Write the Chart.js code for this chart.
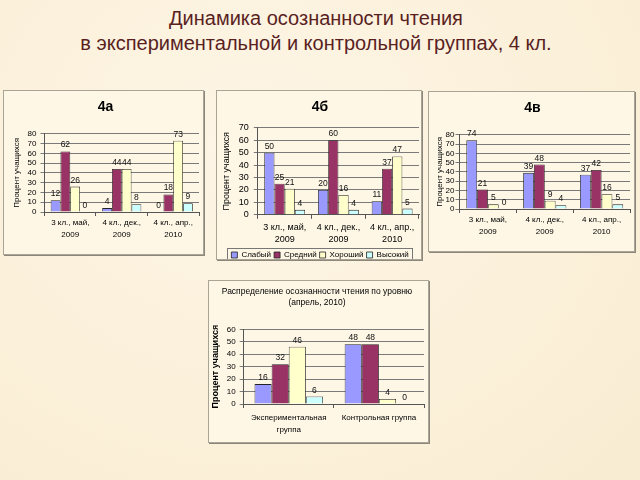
<!DOCTYPE html>
<html lang="ru">
<head>
<meta charset="UTF-8">
<title>Динамика осознанности чтения</title>
<script src="https://cdn.jsdelivr.net/npm/chart.js"></script>
<style>
  html, body { margin: 0; padding: 0; }
  body {
    width: 640px; height: 480px; overflow: hidden; position: relative;
    background: radial-gradient(ellipse at 40% 30%, #fdf5e6 0%, #fbf0d9 60%, #f8ecd2 100%);
    font-family: "Liberation Sans", Arial, sans-serif;
  }
  #heading {
    position: absolute; left: 0; top: 6px; width: 632px; text-align: center;
    font-size: 20px; line-height: 25px; color: #5a1f1f;
  }
  .panel {
    position: absolute; box-sizing: border-box;
    border: 1px solid #aaa496; box-shadow: 1px 1px 0 #8c877b;
    background: #fef7e6;
  }
  .panel canvas { display: block; }
</style>
</head>
<body>
<div id="heading">Динамика осознанности чтения<br>в экспериментальной и контрольной группах, 4 кл.</div>

<div class="panel" style="left:3px; top:90px; width:201px; height:165px;"><canvas id="chartA" width="199" height="163"></canvas></div>
<div class="panel" style="left:216px; top:90px; width:206px; height:170px;"><canvas id="chartB" width="204" height="168"></canvas></div>
<div class="panel" style="left:428px; top:91px; width:207px; height:161px;"><canvas id="chartV" width="205" height="159"></canvas></div>
<div class="panel" style="left:208px; top:280px; width:221px; height:163px;"><canvas id="chartAll" width="219" height="161"></canvas></div>

<script>
// levels (series) and their colours
const levels = ['Слабый', 'Средний', 'Хороший', 'Высокий'];
const levelColors = ['#9999ff', '#993366', '#ffffcc', '#ccffff'];

// periods (categories) for the class charts
const periods = [['3 кл., май,', '2009'], ['4 кл., дек.,', '2009'], ['4 кл., апр.,', '2010']];

// 4а: one array per level, over the periods
const weakA = [12, 4, 0];
const midA = [62, 44, 18];
const goodA = [26, 44, 73];
const highA = [0, 8, 9];

// 4б
const weakB = [50, 20, 11];
const midB = [25, 60, 37];
const goodB = [21, 16, 47];
const highB = [4, 4, 5];

// 4в
const weakV = [74, 39, 37];
const midV = [21, 48, 42];
const goodV = [5, 9, 16];
const highV = [0, 4, 5];

// April 2010 distribution
const groups = [['Экспериментальная', 'группа'], 'Контрольная группа'];
const weakAll = [16, 48];
const midAll = [32, 48];
const goodAll = [46, 4];
const highAll = [6, 0];

const FONT = '"Liberation Sans", Arial, sans-serif';

// draws the value over every bar
const valueLabels = {
    id: 'valueLabels',
    afterDatasetsDraw(chart) {
        const ctx = chart.ctx;
        ctx.save();
        ctx.font = '8.5px ' + FONT;
        ctx.fillStyle = '#111';
        ctx.textAlign = 'center';
        ctx.textBaseline = 'bottom';
        chart.data.datasets.forEach((ds, i) => {
            chart.getDatasetMeta(i).data.forEach((bar, j) => {
                ctx.fillText(ds.data[j], bar.x, bar.y - 2);
            });
        });
        ctx.restore();
    }
};

// thin frame round the legend items, like the office chart
const legendFrame = {
    id: 'legendFrame',
    afterDraw(chart) {
        const lg = chart.legend;
        if (!lg || !chart.options.plugins.legend.display || !lg.legendHitBoxes.length) return;
        const boxes = lg.legendHitBoxes;
        const x0 = Math.min(...boxes.map(b => b.left)) - 4;
        const x1 = Math.max(...boxes.map(b => b.left + b.width)) + 4;
        const y0 = Math.min(...boxes.map(b => b.top)) - 3;
        const y1 = Math.max(...boxes.map(b => b.top + b.height)) + 3;
        const ctx = chart.ctx;
        ctx.save();
        ctx.strokeStyle = '#777';
        ctx.lineWidth = 1;
        ctx.strokeRect(Math.round(x0) + 0.5, Math.round(y0) + 0.5, Math.round(x1 - x0), Math.round(y1 - y0));
        ctx.restore();
    }
};

function makeChart(id, labels, series, opts) {
    const datasets = series.map((data, i) => ({
        label: levels[i],
        data: data,
        backgroundColor: levelColors[i],
        borderColor: '#222',
        borderWidth: 0.8,
        categoryPercentage: 0.76,
        barPercentage: 1
    }));
    return new Chart(document.getElementById(id).getContext('2d'), {
        type: 'bar',
        data: { labels: labels, datasets: datasets },
        plugins: [valueLabels, legendFrame],
        options: {
            responsive: false,
            animation: false,
            layout: { padding: opts.padding },
            plugins: {
                title: {
                    display: true,
                    text: opts.title,
                    color: '#000',
                    font: opts.titleFont,
                    padding: opts.titlePadding
                },
                legend: {
                    display: !!opts.legend,
                    position: 'bottom',
                    labels: {
                        boxWidth: 6, boxHeight: 6, padding: 3,
                        color: '#000',
                        font: { family: FONT, size: 8 }
                    }
                },
                tooltip: { enabled: false }
            },
            scales: {
                x: {
                    grid: { drawOnChartArea: false, drawTicks: true, tickLength: 4, color: '#555' },
                    border: { color: '#555' },
                    ticks: {
                        color: '#000', maxRotation: 0, padding: opts.xPad,
                        font: { family: FONT, size: opts.tickSize, lineHeight: opts.lineHeight }
                    }
                },
                y: {
                    min: 0,
                    max: opts.max,
                    ticks: {
                        stepSize: 10, autoSkip: false, color: '#000', padding: opts.yPad,
                        font: { family: FONT, size: opts.tickSize }
                    },
                    grid: { color: '#7a7a7a', tickLength: 4 },
                    border: { color: '#555' },
                    title: {
                        display: true,
                        text: 'Процент учащихся',
                        color: '#000',
                        font: opts.axisFont,
                        padding: { top: 0, bottom: opts.yTitleGap }
                    }
                }
            }
        }
    });
}

makeChart('chartA', periods, [weakA, midA, goodA, highA], {
    title: '4а', max: 80, tickSize: 8, lineHeight: 1.5, xPad: 1, yPad: 4, yTitleGap: 2,
    titleFont: { family: FONT, size: 14, weight: 'bold' },
    titlePadding: { top: 8, bottom: 18 },
    axisFont: { family: FONT, size: 8 },
    padding: { left: 8, right: 4, top: 0, bottom: 12 }
});

makeChart('chartB', periods, [weakB, midB, goodB, highB], {
    title: '4б', max: 70, legend: true, tickSize: 9, lineHeight: 1.4, xPad: 2, yPad: 5, yTitleGap: 2,
    titleFont: { family: FONT, size: 14, weight: 'bold' },
    titlePadding: { top: 8, bottom: 12 },
    axisFont: { family: FONT, size: 9 },
    padding: { left: 4, right: 2, top: 0, bottom: -10 }
});

makeChart('chartV', periods, [weakV, midV, goodV, highV], {
    title: '4в', max: 80, tickSize: 8, lineHeight: 1.5, xPad: 1, yPad: 1, yTitleGap: 0,
    titleFont: { family: FONT, size: 14, weight: 'bold' },
    titlePadding: { top: 8, bottom: 18 },
    axisFont: { family: FONT, size: 8 },
    padding: { left: 6, right: 4, top: 0, bottom: 12 }
});

makeChart('chartAll', groups, [weakAll, midAll, goodAll, highAll], {
    title: ['Распределение осознанности чтения по уровню', '(апрель, 2010)'], max: 60,
    tickSize: 8, lineHeight: 1.5, xPad: 4, yPad: 4, yTitleGap: 2,
    titleFont: { family: FONT, size: 8.5, weight: 'normal' },
    titlePadding: { top: 6, bottom: 22 },
    axisFont: { family: FONT, size: 9, weight: 'bold' },
    padding: { left: 1, right: 4, top: 0, bottom: 2 }
});
</script>
</body>
</html>
